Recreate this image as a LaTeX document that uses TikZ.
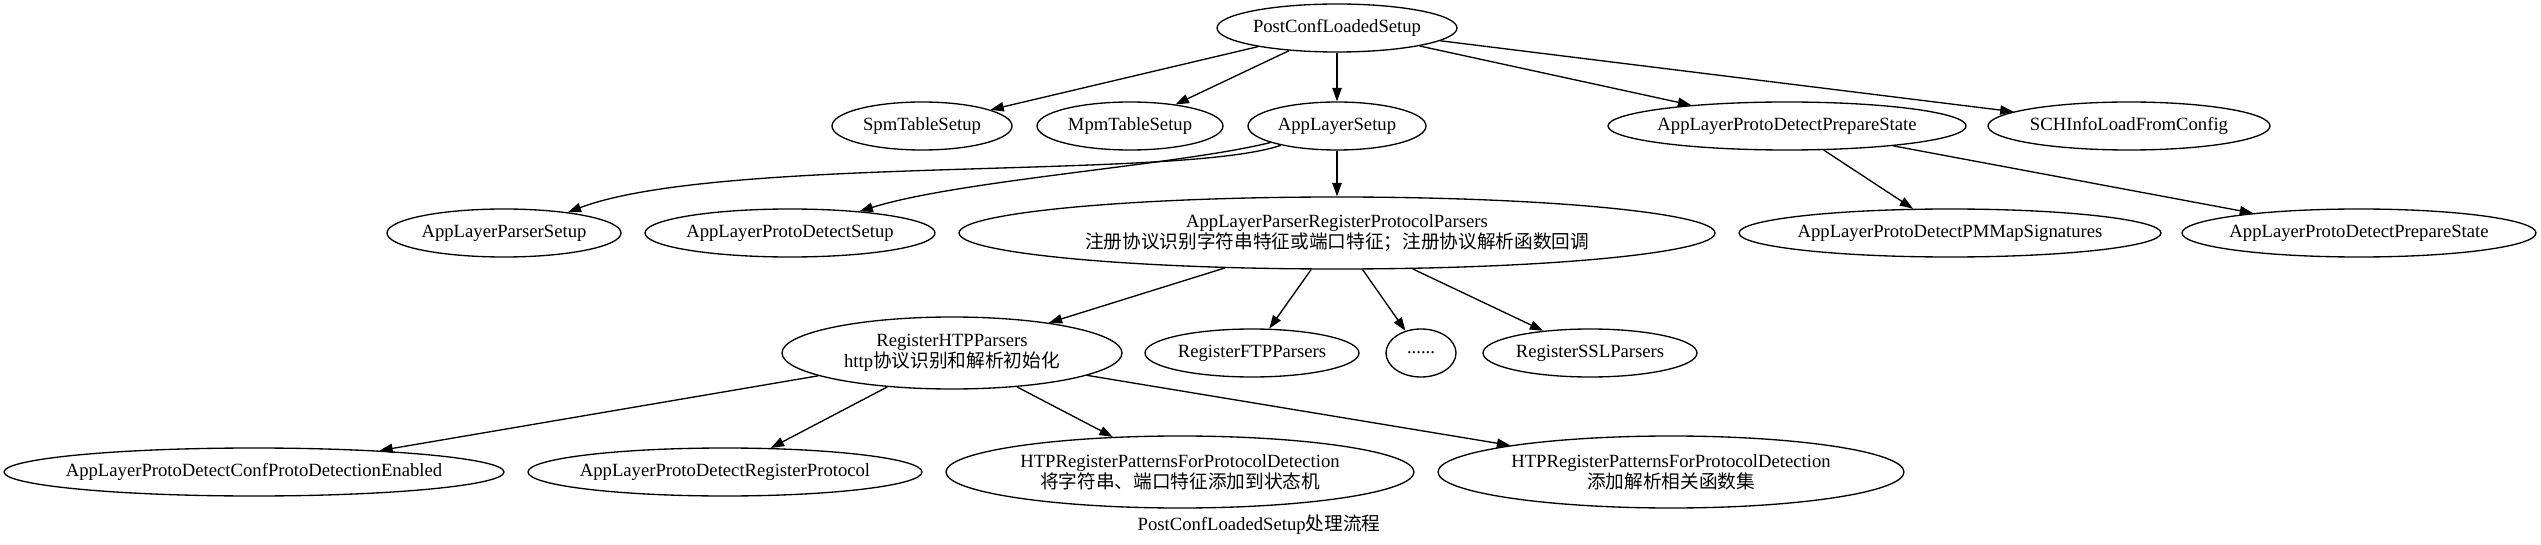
\documentclass[tikz,border=0pt]{standalone}
\usepackage{fontspec}
\setmainfont{Liberation Serif}
\newfontfamily\cjk{Noto Sans CJK SC}
\usetikzlibrary{arrows.meta,shapes.geometric}
\newcommand{\fnline}[1]{\makebox[0pt]{#1}}

\begin{document}
\begin{tikzpicture}[
    x=0.75pt,y=-0.75pt,
    func/.style={draw,ellipse,line width=1pt,inner sep=0pt,minimum height=36pt,
                 align=center,font=\fontsize{14}{16}\selectfont},
    tall/.style={minimum height=54pt},
    call/.style={-{Triangle[length=10pt,width=7pt]},line width=1pt},
    flowname/.style={font=\fontsize{14}{16}\selectfont,inner sep=0pt}
  ]
    \useasboundingbox (0,0) rectangle (2541,545);

    \node[func,minimum width=180pt] (pcls) at (1337,28) {\fnline{PostConfLoadedSetup}};
    \node[func,minimum width=135pt] (spm) at (922,126) {\fnline{SpmTableSetup}};
    \node[func,minimum width=139.5pt] (mpm) at (1130,126) {\fnline{MpmTableSetup}};
    \node[func,minimum width=133.5pt] (als) at (1337,126) {\fnline{AppLayerSetup}};
    \node[func,minimum width=268.5pt] (prep) at (1787,126) {\fnline{AppLayerProtoDetectPrepareState}};
    \node[func,minimum width=211.5pt] (sch) at (2129,126) {\fnline{SCHInfoLoadFromConfig}};

    \node[func,minimum width=175.5pt] (aps) at (504,233) {\fnline{AppLayerParserSetup}};
    \node[func,minimum width=217.5pt] (apds) at (790,233) {\fnline{AppLayerProtoDetectSetup}};
    \node[func,tall,minimum width=567pt] (rpp) at (1337,233)
        {\fnline{AppLayerParserRegisterProtocolParsers}\\\fnline{\cjk 注册协议识别字符串特征或端口特征；注册协议解析函数回调}};
    \node[func,minimum width=316.5pt] (pmmap) at (1950,233) {\fnline{AppLayerProtoDetectPMMapSignatures}};
    \node[func,minimum width=265.5pt] (prep2) at (2359,233) {\fnline{AppLayerProtoDetectPrepareState}};

    \node[func,tall,minimum width=255pt] (htp) at (952,353)
        {\fnline{RegisterHTPParsers}\\\fnline{http{\cjk 协议识别和解析初始化}}};
    \node[func,minimum width=160.5pt] (ftp) at (1252,353) {\fnline{RegisterFTPParsers}};
    \node[func,minimum width=52.5pt] (more) at (1421,353) {\fnline{......}};
    \node[func,minimum width=160.5pt] (ssl) at (1590,353) {\fnline{RegisterSSLParsers}};

    \node[func,minimum width=375pt] (conf) at (254,472) {\fnline{AppLayerProtoDetectConfProtoDetectionEnabled}};
    \node[func,minimum width=295.5pt] (regp) at (725,472) {\fnline{AppLayerProtoDetectRegisterProtocol}};
    \node[func,tall,minimum width=351pt] (pat1) at (1180,472)
        {\fnline{HTPRegisterPatternsForProtocolDetection}\\\fnline{\cjk 将字符串、端口特征添加到状态机}};
    \node[func,tall,minimum width=349.5pt] (pat2) at (1671,472)
        {\fnline{HTPRegisterPatternsForProtocolDetection}\\\fnline{\cjk 添加解析相关函数集}};

    \node[flowname] (title) at (1259,525) {PostConfLoadedSetup{\cjk 处理流程}};

    \draw[call] (pcls) -- (spm);
    \draw[call] (pcls) -- (mpm);
    \draw[call] (pcls) -- (als);
    \draw[call] (pcls) -- (prep);
    \draw[call] (pcls) -- (sch);

    \draw[call] (als) .. controls (1180,180) and (720,155) .. (aps.18);
    \draw[call] (als) .. controls (1180,165) and (960,180) .. (apds);
    \draw[call] (als) -- (rpp);

    \draw[call] (prep) -- (pmmap);
    \draw[call] (prep) -- (prep2);

    \draw[call] (rpp) -- (htp);
    \draw[call] (rpp) -- (ftp);
    \draw[call] (rpp) -- (more);
    \draw[call] (rpp) -- (ssl);

    \draw[call] (htp) -- (conf);
    \draw[call] (htp) -- (regp);
    \draw[call] (htp) -- (pat1);
    \draw[call] (htp) -- (pat2);
  \end{tikzpicture}
\end{document}
